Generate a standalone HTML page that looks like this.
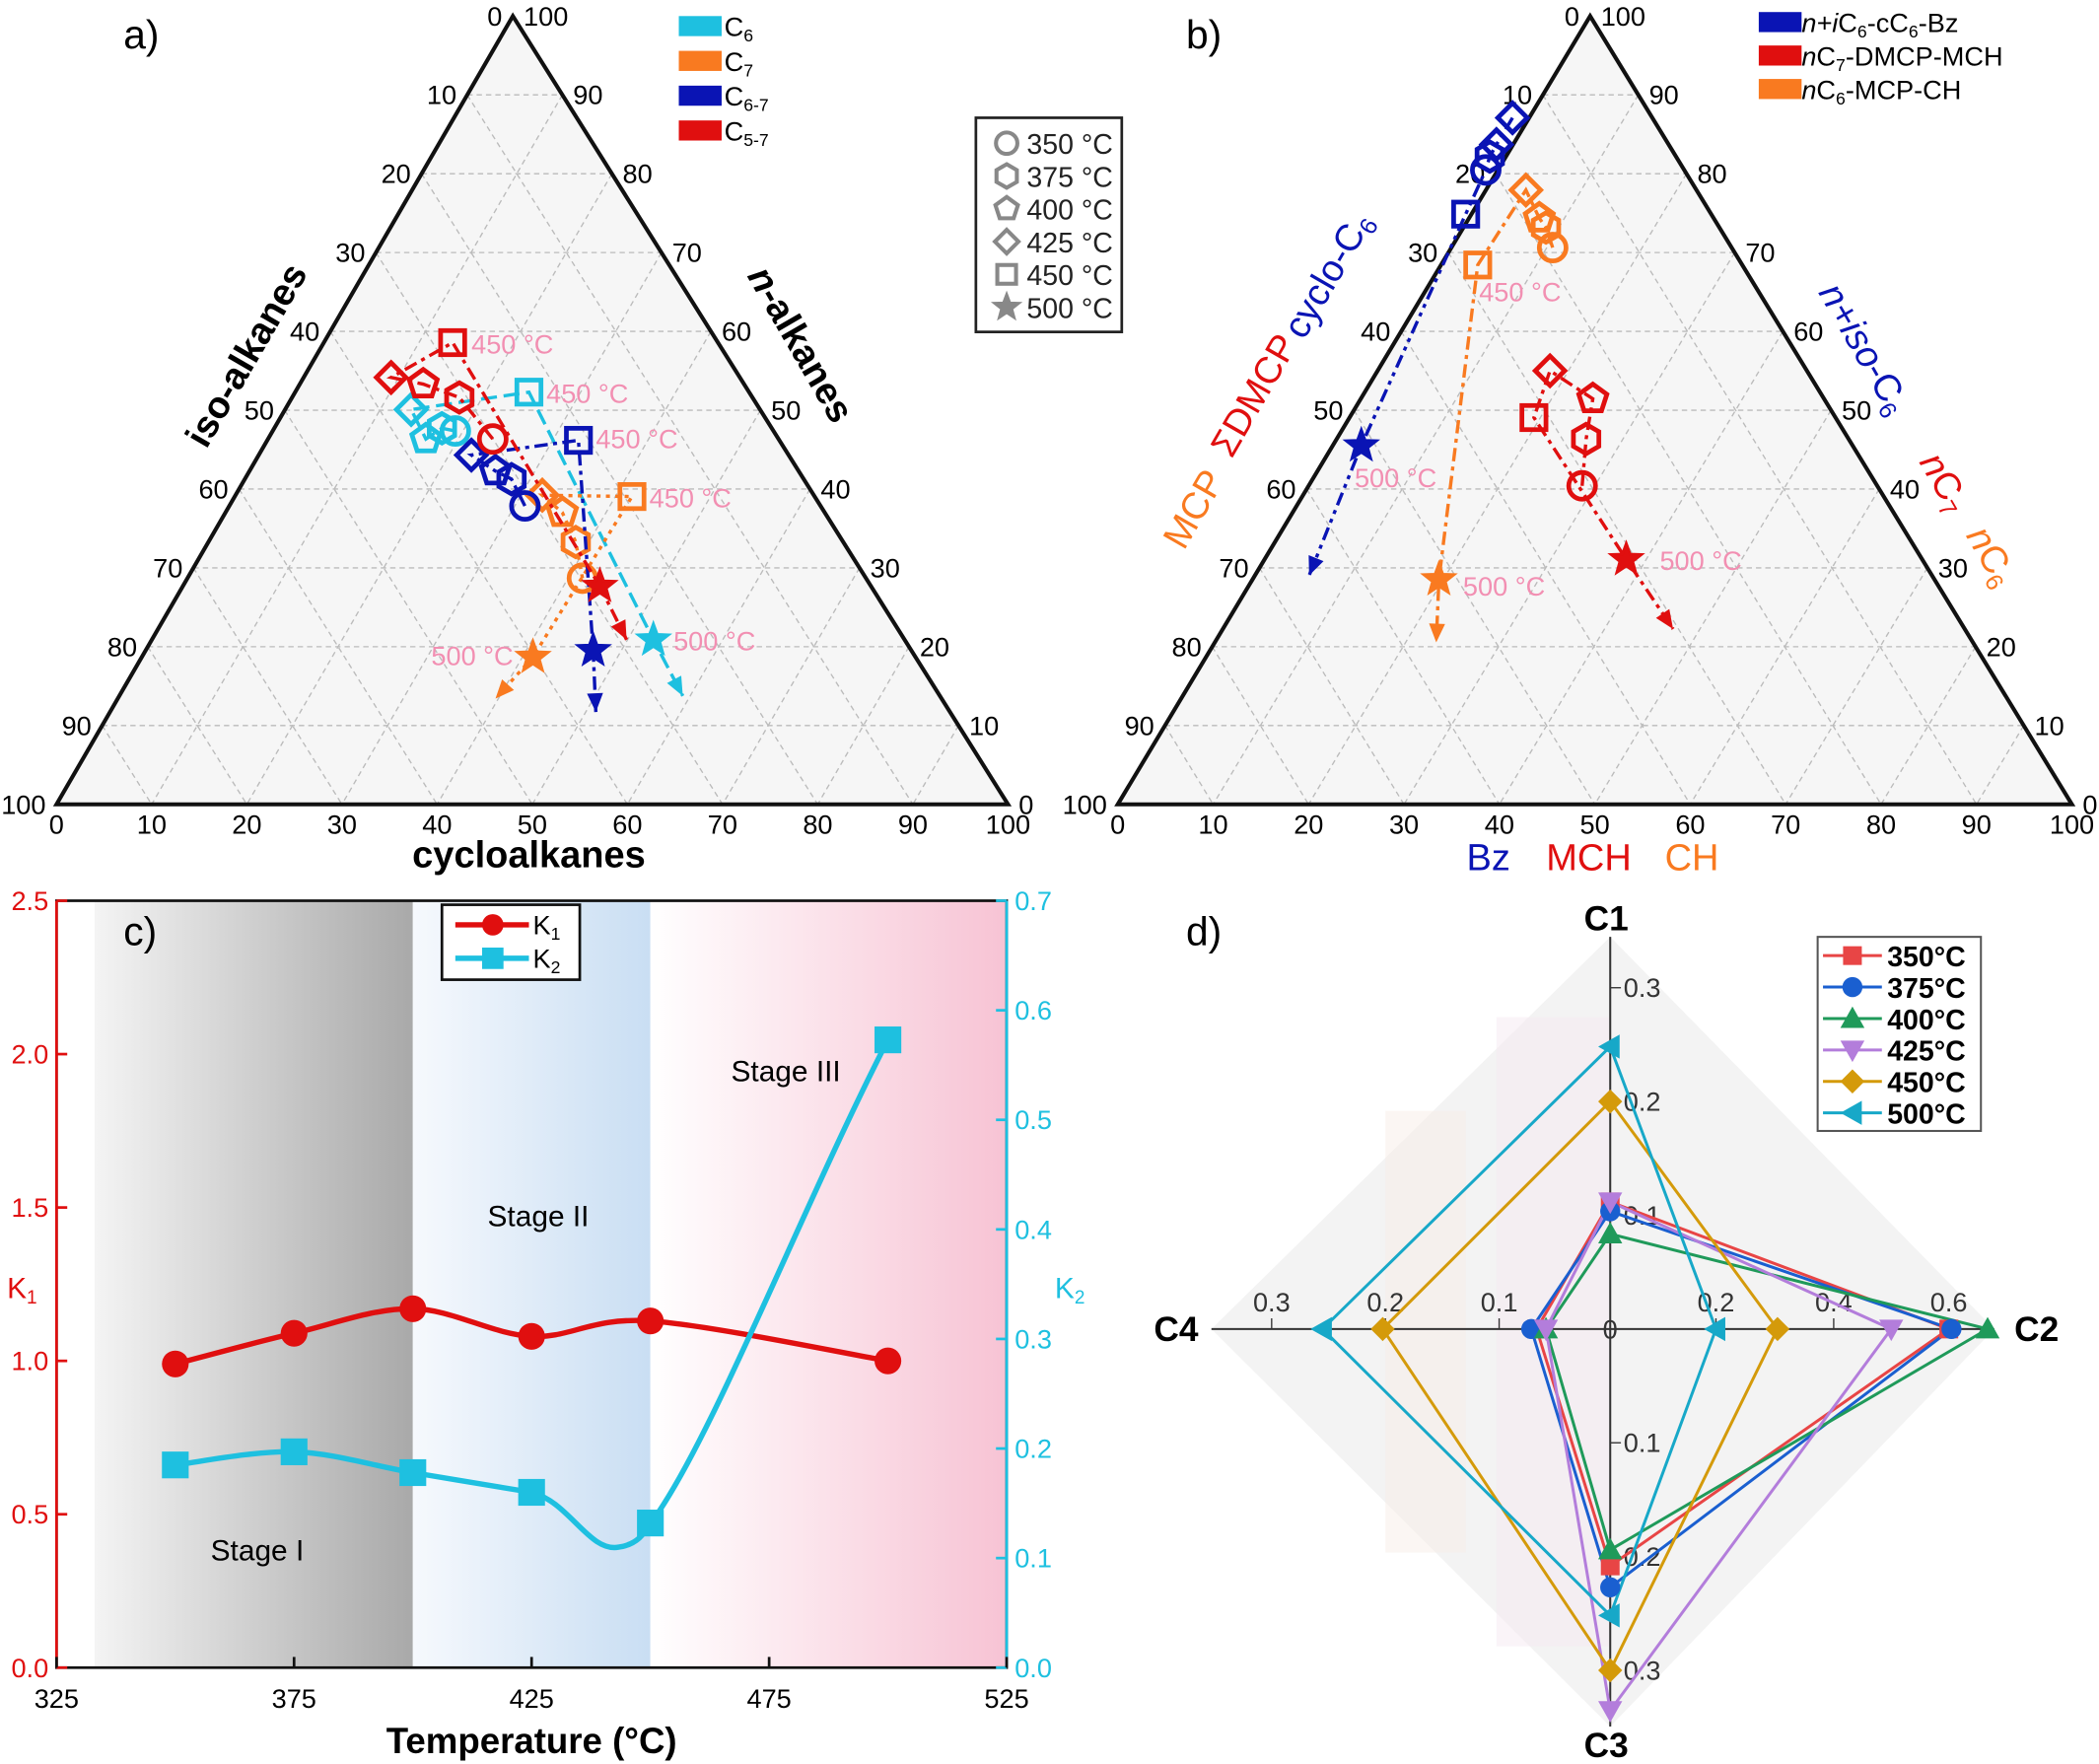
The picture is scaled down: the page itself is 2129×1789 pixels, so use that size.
<!DOCTYPE html>
<html><head><meta charset="utf-8">
<style>
html,body{margin:0;padding:0;background:#fff;}
svg{display:block;font-family:"Liberation Sans",Arial,sans-serif;}
</style></head>
<body>
<svg id="s" width="2129" height="1789" viewBox="0 0 1568 1318" xmlns="http://www.w3.org/2000/svg">
<defs>
<linearGradient id="gGray" x1="0" x2="1" y1="0" y2="0">
<stop offset="0" stop-color="#f4f4f4"/><stop offset="1" stop-color="#a9a9a9"/></linearGradient>
<linearGradient id="gBlue" x1="0" x2="1" y1="0" y2="0">
<stop offset="0" stop-color="#f6f9fd"/><stop offset="1" stop-color="#c9def3"/></linearGradient>
<linearGradient id="gPink" x1="0" x2="1" y1="0" y2="0">
<stop offset="0" stop-color="#ffffff"/><stop offset="1" stop-color="#f7c3d4"/></linearGradient>
</defs>
<g id="root"></g>
</svg>
<script>
var out=[];
function P(s){out.push(s);}
function lerp(a,b,t){return [a[0]+(b[0]-a[0])*t,a[1]+(b[1]-a[1])*t];}
function tern(A,L,R,ticks){
  P('<polygon points="'+A+' '+L+' '+R+'" fill="#f6f6f6"/>');
  for(var k=1;k<10;k++){var t=k/10;
    var p=lerp(A,L,t),q=lerp(A,R,t);
    P('<line x1="'+p[0]+'" y1="'+p[1]+'" x2="'+q[0]+'" y2="'+q[1]+'" stroke="#bbb" stroke-width="1" stroke-dasharray="4,3"/>');
    var r=lerp(L,R,1-t);
    P('<line x1="'+p[0]+'" y1="'+p[1]+'" x2="'+r[0]+'" y2="'+r[1]+'" stroke="#bbb" stroke-width="1" stroke-dasharray="4,3"/>');
    var r2=lerp(R,L,1-t);
    P('<line x1="'+q[0]+'" y1="'+q[1]+'" x2="'+r2[0]+'" y2="'+r2[1]+'" stroke="#bbb" stroke-width="1" stroke-dasharray="4,3"/>');
  }
  P('<polygon points="'+A+' '+L+' '+R+'" fill="none" stroke="#111" stroke-width="3"/>');
  for(var k=0;k<=10;k++){var t=k/10;
    var p=lerp(A,L,t);P('<text x="'+(p[0]-8)+'" y="'+(p[1]+7)+'" font-size="20" text-anchor="end">'+(k*10)+'</text>');
    var q=lerp(R,A,t);P('<text x="'+(q[0]+8)+'" y="'+(q[1]+7)+'" font-size="20">'+(k*10)+'</text>');
    var r=lerp(L,R,t);P('<text x="'+r[0]+'" y="'+(r[1]+22)+'" font-size="20" text-anchor="middle">'+(k*10)+'</text>');
  }
}
function mk(type,x,y,c,sz){sz=sz||10;var s='';
  var st=' fill="none" stroke="'+c+'" stroke-width="3.5"';
  if(type=='o')s='<circle cx="'+x+'" cy="'+y+'" r="'+sz+'"'+st+'/>';
  else if(type=='sq')s='<rect x="'+(x-sz+1)+'" y="'+(y-sz+1)+'" width="'+(2*sz-2)+'" height="'+(2*sz-2)+'"'+st+'/>';
  else{var n=type=='hex'?6:type=='pen'?5:type=='dia'?4:5,pts=[];
    if(type=='star'){for(var i=0;i<10;i++){var a=-Math.PI/2+i*Math.PI/5,rr=i%2?sz*0.5:sz*1.2;pts.push((x+rr*Math.cos(a)).toFixed(1)+','+(y+rr*Math.sin(a)).toFixed(1));}
      s='<polygon points="'+pts.join(' ')+'" fill="'+c+'" stroke="'+c+'" stroke-width="2"/>';return s;}
    for(var i=0;i<n;i++){var a=-Math.PI/2+i*2*Math.PI/n;pts.push((x+sz*1.1*Math.cos(a)).toFixed(1)+','+(y+sz*1.1*Math.sin(a)).toFixed(1));}
    s='<polygon points="'+pts.join(' ')+'"'+st+'/>';}
  return s;}
function series(pts,types,arrow,c,dash){
  var d='M'+pts.map(function(p){return p.join(',')}).join(' L')+' L'+arrow.join(',');
  P('<path d="'+d+'" fill="none" stroke="'+c+'" stroke-width="2.5" stroke-dasharray="'+dash+'"/>');
  var a=pts[pts.length-1],b=arrow,ang=Math.atan2(b[1]-a[1],b[0]-a[0]);
  var h=14,w=6;
  var p1=[b[0]-h*Math.cos(ang)+w*Math.sin(ang),b[1]-h*Math.sin(ang)-w*Math.cos(ang)];
  var p2=[b[0]-h*Math.cos(ang)-w*Math.sin(ang),b[1]-h*Math.sin(ang)+w*Math.cos(ang)];
  P('<polygon points="'+b+' '+p1+' '+p2+'" fill="'+c+'"/>');
  for(var i=0;i<pts.length;i++)P(mk(types[i],pts[i][0],pts[i][1],c));
}
var T=['o','hex','pen','dia','sq','star'];
// Panel a
tern([383,12],[42,601],[753,601]);
series([[340,322],[330,320],[318,328],[307,306],[395,293],[488,478]],T,[510,520],'#1ec0e0','12,5');
series([[435,432],[430,405],[420,383],[405,370],[472,371],[398,491]],T,[370,522],'#f97a20','3,4');
series([[392,378],[382,358],[370,352],[352,340],[432,329],[443,486]],T,[445,532],'#0a14b4','10,4,3,4');
series([[368,328],[343,297],[316,287],[292,282],[338,256],[448,438]],T,[468,478],'#e00f0f','10,4,3,4');
var pink='#f28fb2';
[[352,264,'450 °C'],[408,301,'450 °C'],[445,335,'450 °C'],[485,379,'450 °C'],[503,486,'500 °C'],[322,497,'500 °C']].forEach(function(l){P('<text x="'+l[0]+'" y="'+l[1]+'" font-size="20" fill="'+pink+'">'+l[2]+'</text>');});
P('<text x="92" y="36" font-size="30">a)</text>');
P('<text transform="translate(192,270) rotate(-60)" font-size="28" font-weight="bold" text-anchor="middle">iso-alkanes</text>');
P('<text transform="translate(590,262) rotate(60)" font-size="28" font-weight="bold" text-anchor="middle"><tspan font-style="italic">n</tspan>-alkanes</text>');
P('<text x="395" y="648" font-size="28" font-weight="bold" text-anchor="middle">cycloalkanes</text>');
[['#1ec0e0','6'],['#f97a20','7'],['#0a14b4','6-7'],['#e00f0f','5-7']].forEach(function(l,i){var y=12+i*26;
  P('<rect x="507" y="'+y+'" width="32" height="15" fill="'+l[0]+'"/><text x="541" y="'+(y+15)+'" font-size="20">C<tspan font-size="13" dy="4">'+l[1]+'</tspan></text>');});
P('<rect x="729" y="88" width="109" height="160" fill="#fff" stroke="#222" stroke-width="2"/>');
['350','375','400','425','450','500'].forEach(function(t,i){var y=107+i*24.5;
  P(mk(T[i],752,y,'#888',8).replace('stroke-width="3.5"','stroke-width="3"'));
  P('<text x="767" y="'+(y+8)+'" font-size="21" fill="#222">'+t+' °C</text>');});
// Panel b
tern([1188,12],[835,601],[1548,601]);
series([[1130,88],[1118,108],[1113,117],[1110,127],[1095,160],[1017,333]],['dia','dia','hex','o','sq','star'],[978,430],'#0a14b4','10,4,3,4,3,4');
series([[1160,185],[1155,170],[1150,163],[1140,142],[1104,198],[1075,433]],['o','hex','pen','dia','sq','star'],[1073,480],'#f97a20','10,4,3,4');
series([[1182,363],[1185,328],[1190,298],[1158,277],[1146,312],[1215,418]],['o','hex','pen','dia','sq','star'],[1250,470],'#e00f0f','10,4,3,4');
[[1105,225,'450 °C'],[1012,364,'500 °C'],[1093,445,'500 °C'],[1240,426,'500 °C']].forEach(function(l){P('<text x="'+l[0]+'" y="'+l[1]+'" font-size="20" fill="'+pink+'">'+l[2]+'</text>');});
P('<text x="886" y="36" font-size="30">b)</text>');
P('<text transform="translate(1000,210) rotate(-60)" font-size="28" fill="#0a14b4" text-anchor="middle">cyclo-C<tspan font-size="18" dy="5">6</tspan></text>');
P('<text transform="translate(945,300) rotate(-60)" font-size="28" fill="#e00f0f" text-anchor="middle">ΣDMCP</text>');
P('<text transform="translate(900,385) rotate(-60)" font-size="28" fill="#f97a20" text-anchor="middle">MCP</text>');
P('<text transform="translate(1385,265) rotate(60)" font-size="28" fill="#0a14b4" text-anchor="middle"><tspan font-style="italic">n+iso</tspan>-C<tspan font-size="18" dy="5">6</tspan></text>');
P('<text transform="translate(1445,365) rotate(60)" font-size="28" fill="#e00f0f" text-anchor="middle"><tspan font-style="italic">n</tspan>C<tspan font-size="18" dy="5">7</tspan></text>');
P('<text transform="translate(1480,420) rotate(60)" font-size="28" fill="#f97a20" text-anchor="middle"><tspan font-style="italic">n</tspan>C<tspan font-size="18" dy="5">6</tspan></text>');
P('<text x="1112" y="650" font-size="28" fill="#0a14b4" text-anchor="middle">Bz</text><text x="1187" y="650" font-size="28" fill="#e00f0f" text-anchor="middle">MCH</text><text x="1264" y="650" font-size="28" fill="#f97a20" text-anchor="middle">CH</text>');
[['#0a14b4','<tspan font-style="italic">n+i</tspan>C<tspan font-size="13" dy="4">6</tspan><tspan dy="-4">-cC</tspan><tspan font-size="13" dy="4">6</tspan><tspan dy="-4">-Bz</tspan>'],['#e00f0f','<tspan font-style="italic">n</tspan>C<tspan font-size="13" dy="4">7</tspan><tspan dy="-4">-DMCP-MCH</tspan>'],['#f97a20','<tspan font-style="italic">n</tspan>C<tspan font-size="13" dy="4">6</tspan><tspan dy="-4">-MCP-CH</tspan>']].forEach(function(l,i){var y=9+i*25;
  P('<rect x="1314" y="'+y+'" width="32" height="15" fill="'+l[0]+'"/><text x="1346" y="'+(y+15)+'" font-size="20">'+l[1]+'</text>');});
// Panel c
function X(t){return 42+(t-325)/200*710;}
function YL(v){return 1246-v/2.5*573;}
function YR(v){return 1246-v/0.7*573;}
P('<rect x="'+X(333)+'" y="673" width="'+(X(400)-X(333))+'" height="573" fill="url(#gGray)"/>');
P('<rect x="'+X(400)+'" y="673" width="'+(X(450)-X(400))+'" height="573" fill="url(#gBlue)"/>');
P('<rect x="'+X(450)+'" y="673" width="'+(X(525)-X(450))+'" height="573" fill="url(#gPink)"/>');
P('<rect x="42" y="673" width="710" height="573" fill="none" stroke="#111" stroke-width="2"/>');
P('<line x1="42" y1="673" x2="42" y2="1246" stroke="#e00f0f" stroke-width="2"/><line x1="752" y1="673" x2="752" y2="1246" stroke="#1ec0e0" stroke-width="2"/>');
for(var v=0;v<=2.5001;v+=0.5){var y=YL(v);P('<line x1="42" y1="'+y+'" x2="50" y2="'+y+'" stroke="#e00f0f" stroke-width="2"/><text x="36" y="'+(y+7)+'" font-size="20" fill="#e00f0f" text-anchor="end">'+v.toFixed(1)+'</text>');}
for(var v=0;v<=0.7001;v+=0.1){var y=YR(v);P('<line x1="744" y1="'+y+'" x2="752" y2="'+y+'" stroke="#1ec0e0" stroke-width="2"/><text x="758" y="'+(y+7)+'" font-size="20" fill="#1ec0e0">'+v.toFixed(1)+'</text>');}
for(var t=325;t<=525;t+=50){var x=X(t);P('<line x1="'+x+'" y1="1246" x2="'+x+'" y2="1238" stroke="#111" stroke-width="2"/><text x="'+x+'" y="1276" font-size="20" text-anchor="middle">'+t+'</text>');}
function cr(pts){var d='M'+pts[0];for(var i=0;i<pts.length-1;i++){var p0=pts[i-1]||pts[i],p1=pts[i],p2=pts[i+1],p3=pts[i+2]||p2;
  var c1=[p1[0]+(p2[0]-p0[0])/6,p1[1]+(p2[1]-p0[1])/6],c2=[p2[0]-(p3[0]-p1[0])/6,p2[1]-(p3[1]-p1[1])/6];d+=' C'+c1+' '+c2+' '+p2;}return d;}
var K1=[[350,0.99],[375,1.09],[400,1.17],[425,1.08],[450,1.13],[500,1.0]].map(function(p){return [X(p[0]),YL(p[1])];});
var K2=[[350,0.185],[375,0.197],[400,0.178],[425,0.16],[450,0.132],[500,0.573]].map(function(p){return [X(p[0]),YR(p[1])];});
P('<path d="'+cr(K1)+'" fill="none" stroke="#e00f0f" stroke-width="4"/>');
var k2d=cr([K2[0],K2[1],K2[2],K2[3]])+' C 425,1122 440,1160 462,1156 C 476,1154 481,1146 486,1138 C 530,1080 600,900 '+K2[5][0]+','+K2[5][1];
P('<path d="'+k2d+'" fill="none" stroke="#1ec0e0" stroke-width="4"/>');
K1.forEach(function(p){P('<circle cx="'+p[0]+'" cy="'+p[1]+'" r="10" fill="#e00f0f"/>');});
K2.forEach(function(p){P('<rect x="'+(p[0]-10)+'" y="'+(p[1]-10)+'" width="20" height="20" fill="#1ec0e0"/>');});
P('<text x="192" y="1166" font-size="22" text-anchor="middle">Stage I</text><text x="402" y="916" font-size="22" text-anchor="middle">Stage II</text><text x="587" y="808" font-size="22" text-anchor="middle">Stage III</text>');
P('<text x="92" y="706" font-size="30">c)</text>');
P('<text x="397" y="1310" font-size="27" font-weight="bold" text-anchor="middle">Temperature (°C)</text>');
P('<text x="5" y="970" font-size="22" fill="#e00f0f">K<tspan font-size="14" dy="4">1</tspan></text>');
P('<text x="788" y="970" font-size="22" fill="#1ec0e0">K<tspan font-size="14" dy="4">2</tspan></text>');
P('<rect x="330" y="676" width="103" height="56" fill="#fff" stroke="#111" stroke-width="2"/>');
P('<line x1="340" y1="691" x2="395" y2="691" stroke="#e00f0f" stroke-width="4"/><circle cx="368" cy="691" r="8" fill="#e00f0f"/><text x="398" y="698" font-size="20">K<tspan font-size="13" dy="4">1</tspan></text>');
P('<line x1="340" y1="716" x2="395" y2="716" stroke="#1ec0e0" stroke-width="4"/><rect x="360" y="708" width="16" height="16" fill="#1ec0e0"/><text x="398" y="723" font-size="20">K<tspan font-size="13" dy="4">2</tspan></text>');
// Panel d
P('<polygon points="1203,700 1490,993 1203,1290 905,993" fill="#f3f3f3"/>');
P('<rect x="1035" y="830" width="60" height="330" fill="#f8eee8" opacity="0.5"/><rect x="1118" y="760" width="85" height="470" fill="#f6eaf1" opacity="0.5"/>');
P('<line x1="905" y1="993" x2="1490" y2="993" stroke="#333" stroke-width="1.5"/><line x1="1203" y1="700" x2="1203" y2="1290" stroke="#333" stroke-width="1.5"/>');
[[1203,738,'0.3'],[1203,823,'0.2'],[1203,908,'0.1'],[1203,1078,'0.1'],[1203,1163,'0.2'],[1203,1248,'0.3']].forEach(function(l){P('<line x1="1203" y1="'+l[1]+'" x2="1211" y2="'+l[1]+'" stroke="#333"/><text x="1213" y="'+(l[1]+7)+'" font-size="20" fill="#333">'+l[2]+'</text>');});
[[950,'0.3'],[1035,'0.2'],[1120,'0.1'],[1282,'0.2'],[1370,'0.4'],[1456,'0.6']].forEach(function(l){P('<line x1="'+l[0]+'" y1="993" x2="'+l[0]+'" y2="985" stroke="#333"/><text x="'+l[0]+'" y="980" font-size="20" fill="#333" text-anchor="middle">'+l[1]+'</text>');});
P('<text x="1203" y="1000" font-size="20" fill="#333" text-anchor="middle">0</text>');
P('<text x="1200" y="695" font-size="26" font-weight="bold" text-anchor="middle">C1</text><text x="1200" y="1313" font-size="26" font-weight="bold" text-anchor="middle">C3</text><text x="862" y="1002" font-size="26" font-weight="bold">C4</text><text x="1505" y="1002" font-size="26" font-weight="bold">C2</text>');
P('<text x="886" y="706" font-size="30">d)</text>');
var D=[['#e84545','s',898,1456,1170,1148],['#1a5fd0','c',905,1458,1186,1144],['#1f9a5a','t',922,1485,1158,1155],['#b37ddb','v',898,1413,1278,1155],['#d49a0a','d',823,1328,1248,1033],['#17a8c8','l',782,1282,1207,988]];
function dm(t,x,y,c){
 if(t=='s')return '<rect x="'+(x-7)+'" y="'+(y-7)+'" width="14" height="14" fill="'+c+'"/>';
 if(t=='c')return '<circle cx="'+x+'" cy="'+y+'" r="7.5" fill="'+c+'"/>';
 if(t=='t')return '<polygon points="'+x+','+(y-9)+' '+(x+9)+','+(y+7)+' '+(x-9)+','+(y+7)+'" fill="'+c+'"/>';
 if(t=='v')return '<polygon points="'+x+','+(y+9)+' '+(x+9)+','+(y-7)+' '+(x-9)+','+(y-7)+'" fill="'+c+'"/>';
 if(t=='d')return '<polygon points="'+x+','+(y-9)+' '+(x+9)+','+y+' '+x+','+(y+9)+' '+(x-9)+','+y+'" fill="'+c+'"/>';
 return '<polygon points="'+(x-9)+','+y+' '+(x+7)+','+(y-9)+' '+(x+7)+','+(y+9)+'" fill="'+c+'"/>';}
D.forEach(function(s){P('<polygon points="1203,'+s[2]+' '+s[3]+',993 1203,'+s[4]+' '+s[5]+',993" fill="none" stroke="'+s[0]+'" stroke-width="2.2"/>');});
D.forEach(function(s){P(dm(s[1],1203,s[2],s[0])+dm(s[1],s[3],993,s[0])+dm(s[1],1203,s[4],s[0])+dm(s[1],s[5],993,s[0]));});
P('<rect x="1358" y="700" width="122" height="145" fill="#fff" stroke="#555" stroke-width="1.5"/>');
['350°C','375°C','400°C','425°C','450°C','500°C'].forEach(function(t,i){var y=714+i*23.5,s=D[i];
  P('<line x1="1362" y1="'+y+'" x2="1406" y2="'+y+'" stroke="'+s[0]+'" stroke-width="2.2"/>'+dm(s[1],1384,y,s[0])+'<text x="1410" y="'+(y+8)+'" font-size="21" font-weight="bold">'+t+'</text>');});
document.getElementById('root').innerHTML=out.join('');
</script>
</body></html>
